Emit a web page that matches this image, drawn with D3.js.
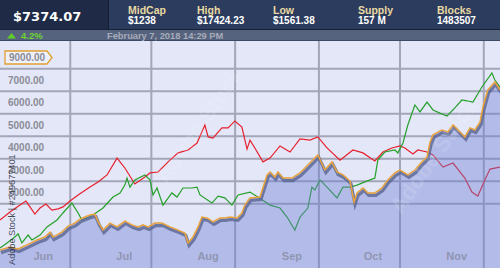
<!DOCTYPE html>
<html>
<head>
<meta charset="utf-8">
<script src="https://cdn.jsdelivr.net/npm/d3@7"></script>
<style>
  html, body { margin: 0; padding: 0; background: #e3e7f8; overflow: hidden; }
  text { font-family: "Liberation Sans", Arial, sans-serif; }
</style>
</head>
<body>
<div id="chart"></div>
<script>
const width = 500;
const height = 268;

// header figures
const price = "$7374.07";
const statLabels = ["MidCap", "High", "Low", "Supply", "Blocks"];
const statValues = ["$1238", "$17424.23", "$1561.38", "157 M", "1483507"];
const change = "4.2%";
const stamp = "February 7, 2018 14:29 PM";

// axis labels
const monthLabels = ["Jun", "Jul", "Aug", "Sep", "Oct", "Nov"];
const monthDates = [new Date(2018, 5, 1), new Date(2018, 6, 1), new Date(2018, 7, 1),
                    new Date(2018, 8, 1), new Date(2018, 9, 1), new Date(2018, 10, 1)];
const gridDates = [new Date(2018, 5, 11), new Date(2018, 6, 11), new Date(2018, 7, 11),
                   new Date(2018, 8, 11), new Date(2018, 9, 11), new Date(2018, 10, 11)];
const yTicks = [7000, 6000, 5000, 4000, 3000, 2000];
const yGrid = [7500, 6500, 5500, 4500, 3500, 2500, 1500];
const markerValue = 8000;
const markerLabel = "9000.00";

// series: [days after May 16 2018, value]
const redData = [
  [0, 780], [3.7, 1130], [7.4, 1440], [9.6, 1620], [11.1, 1360], [12.9, 1040], [14.8, 1310],
  [17, 1490], [19.2, 1220], [21.5, 1270], [23.3, 1360], [25.9, 1620], [28.9, 1890], [33.3, 2240],
  [36.3, 2470], [39.6, 2780], [43.3, 3530], [46.2, 3090], [49.9, 2380], [53.6, 2690], [55.5, 2870],
  [58.5, 2910], [62.2, 3360], [65.9, 3760], [69.6, 3890], [72.9, 4200], [75.8, 5000], [77, 4470],
  [78.8, 4420], [82.1, 4870], [84.4, 4870], [86.9, 5180], [89.5, 4910], [91.4, 3930], [92.5, 4330],
  [94.3, 3980], [97.3, 3360], [99.9, 3530], [103.6, 4070], [107.3, 3800], [111, 4380], [114.7, 4330],
  [117.6, 4470], [121, 3980], [125.8, 3440], [130.6, 3890], [134.3, 3760], [138.7, 3400], [141.7, 3800],
  [145, 3980], [148, 4070], [149.8, 3980], [152.8, 3710], [154.6, 3890], [158, 3800], [160.2, 3670],
  [163.9, 3130], [167.6, 3310], [172, 2640], [174.6, 2020], [176.8, 1840], [179.4, 2560], [181.3, 3040],
  [185, 3130]
];

const greenData = [
  [0, -470], [2.6, -240], [5.5, 20], [6.7, 160], [8.1, -240], [10.4, 110], [11.8, -110], [14.8, 110],
  [17.4, 470], [21.1, 780], [23.3, 1090], [26.6, 1530], [28.9, 1090], [30.3, 780], [32.2, 870],
  [34.4, 1000], [38.1, 1310], [41.8, 1800], [44.4, 1980], [46.2, 2330], [47, 2640], [48.1, 2240],
  [49.9, 2560], [53.6, 2780], [55.5, 2560], [56.6, 1890], [58.1, 2200], [60.3, 1440], [63.6, 1980],
  [65.5, 1800], [67.7, 2200], [71, 2200], [72.9, 2240], [74, 1890], [78.4, 1530], [80.7, 1840],
  [83.2, 1760], [85.8, 1440], [88.1, 1890], [92.5, 2020], [95.4, 1800], [99.9, 1440], [103.6, 1310],
  [106.2, 910], [109.1, 330], [111, 910], [113.9, 1310], [115.4, 2240], [116.5, 2110], [118.4, 2560],
  [121, 2240], [124.7, 1760], [126.9, 2240], [129.5, 2240], [132.1, 2330], [135, 2470], [138.7, 2640],
  [139.8, 3440], [142.4, 3800], [146.1, 3890], [147.2, 3760], [149.1, 4200], [150.9, 5000], [153.5, 5890],
  [155.4, 5580], [158, 6020], [160.2, 5670], [162.8, 5530], [165.4, 5400], [168.3, 5760], [170.9, 6110],
  [175, 6020], [178.3, 6690], [182, 7310], [183.1, 7000], [185, 6690]
];

const mainData = [
  [0, -560], [3.7, -420], [6.7, -510], [10, -330], [13.7, -110], [16.6, 20], [18.5, 240], [19.6, 20],
  [22.9, 240], [25.2, 510], [27.7, 640], [29.6, 820], [31.4, 910], [33.3, 1000], [35.1, 1040],
  [36.3, 690], [38.1, 330], [40.7, 640], [43.3, 470], [46.2, 730], [48.8, 560], [51.1, 470], [52.9, 560],
  [54.8, 470], [57.3, 640], [59.9, 640], [62.9, 470], [65.9, 330], [68.4, 200], [69.6, -240], [71.4, 20],
  [73.3, 470], [74.7, 910], [76.6, 870], [78.8, 690], [81.4, 870], [83.2, 870], [85.1, 910], [87.7, 870],
  [89.5, 1090], [90.6, 1440], [92.5, 1760], [96.2, 1800], [98.8, 2780], [99.9, 2910], [101.7, 2690],
  [102.8, 2910], [104.7, 2640], [108, 2640], [111, 2870], [113.9, 3220], [117.6, 3670], [120.2, 3000],
  [122.8, 3360], [124.7, 2910], [126.9, 2780], [129.5, 2510], [131, 1580], [132.1, 1980], [134.3, 2200],
  [136.1, 1980], [138.7, 1980], [141.3, 2200], [143.5, 2560], [146.1, 2870], [148, 3000], [150.9, 2780],
  [153.5, 3000], [156.1, 3360], [158, 3580], [159.1, 4240], [160.2, 4560], [163.5, 4780], [165.7, 4690],
  [167.6, 5000], [170.2, 4690], [172, 4470], [173.9, 4870], [175.7, 4780], [177.6, 5130], [178.7, 5800],
  [180.5, 6560], [183.1, 6910], [185, 6560]
];

// layout
const headerH = 30, barH = 11, plotTop = 41;
const statX = [128, 197, 273, 358, 437];
const start = new Date(2018, 4, 16);
const toDate = d => new Date(start.getTime() + d * 864e5);

const x = d3.scaleTime()
    .domain([start, new Date(2018, 10, 17)])
    .range([0, width]);
const y = d3.scaleLinear()
    .domain([0, 7000])
    .range([237.5, 80]);

const svg = d3.select("#chart").append("svg")
    .attr("width", width).attr("height", height)
    .attr("viewBox", [0, 0, width, height]);

// plot background
svg.append("rect")
    .attr("x", 0).attr("y", plotTop).attr("width", width).attr("height", height - plotTop)
    .attr("fill", "#e3e7f8");

// grid
const grid = svg.append("g").attr("stroke", "#a2a6b8").attr("stroke-width", 2);
grid.selectAll(".h").data(yGrid).join("line")
    .attr("x1", 0).attr("x2", width)
    .attr("y1", d => y(d)).attr("y2", d => y(d));
grid.selectAll(".v").data(gridDates).join("line")
    .attr("x1", d => x(d)).attr("x2", d => x(d))
    .attr("y1", plotTop).attr("y2", height);

// y labels
svg.append("g").selectAll("text").data(yTicks).join("text")
    .attr("x", 8).attr("y", d => y(d) + 3.5)
    .attr("font-size", 10).attr("font-weight", "bold").attr("fill", "#8b8c96")
    .text(d => d3.format(".2f")(d));

const line = d3.line()
    .x(d => x(toDate(d[0])))
    .y(d => y(d[1]));

svg.append("path").datum(redData)
    .attr("d", line).attr("fill", "none")
    .attr("stroke", "#e8202c").attr("stroke-width", 1.2);
svg.append("path").datum(greenData)
    .attr("d", line).attr("fill", "none")
    .attr("stroke", "#25a12a").attr("stroke-width", 1.2);

// main series: translucent area, shadow and orange edge
const area = d3.area()
    .x(d => x(toDate(d[0])))
    .y0(height)
    .y1(d => y(d[1]));

svg.append("path").datum(mainData)
    .attr("d", area)
    .attr("fill", "rgb(107,126,210)").attr("fill-opacity", 0.4);
svg.append("path").datum(mainData)
    .attr("d", line).attr("fill", "none")
    .attr("transform", "translate(1,2.5)")
    .attr("stroke", "#5b6592").attr("stroke-width", 3.2).attr("stroke-opacity", 0.8);
svg.append("path").datum(mainData)
    .attr("d", line).attr("fill", "none")
    .attr("stroke", "#eaa33a").attr("stroke-width", 1.5);

// month labels
svg.append("g").selectAll("text").data(monthLabels).join("text")
    .attr("x", (d, i) => x(monthDates[i]))
    .attr("y", 259.5)
    .attr("text-anchor", "middle")
    .attr("font-size", 11).attr("font-weight", "bold").attr("fill", "#9095b2")
    .text(d => d);

// price marker tag
const my = y(markerValue);
svg.append("path")
    .attr("d", `M5,${my - 6.5}H47L52,${my}L47,${my + 6.5}H5Z`)
    .attr("fill", "#eef0fb").attr("stroke", "#e0a030").attr("stroke-width", 1.3);
svg.append("text")
    .attr("x", 9).attr("y", my + 3.5)
    .attr("font-size", 10).attr("font-weight", "bold").attr("fill", "#8b8c96")
    .text(markerLabel);

// header
svg.append("rect").attr("width", width).attr("height", headerH).attr("fill", "#2c3c5e");
svg.append("rect").attr("width", 108).attr("height", headerH).attr("fill", "#1e2a46");
svg.append("line").attr("x1", 108.5).attr("x2", 108.5).attr("y1", 0).attr("y2", headerH)
    .attr("stroke", "#141c31").attr("stroke-width", 1);
svg.append("rect").attr("y", headerH).attr("width", width).attr("height", barH).attr("fill", "#55637f");
svg.append("line").attr("x1", 0).attr("x2", width).attr("y1", headerH - 0.5).attr("y2", headerH - 0.5)
    .attr("stroke", "#18203a");
svg.append("line").attr("x1", 0).attr("x2", width).attr("y1", plotTop - 0.5).attr("y2", plotTop - 0.5)
    .attr("stroke", "#3e4a64");

svg.append("text")
    .attr("x", 13).attr("y", 21)
    .style("font-family", "'DejaVu Sans', Verdana, sans-serif")
    .attr("font-size", 13).attr("font-weight", "bold").attr("fill", "#ffffff")
    .text(price);

const stats = svg.append("g").selectAll("g").data(statLabels).join("g")
    .attr("transform", (d, i) => `translate(${statX[i]},0)`);
stats.append("text")
    .attr("y", 14).attr("font-size", 10.5).attr("font-weight", "bold").attr("fill", "#e9d9a2")
    .text(d => d);
stats.append("text")
    .attr("y", 24).attr("font-size", 10).attr("font-weight", "bold").attr("fill", "#ffffff")
    .text((d, i) => statValues[i]);

svg.append("path").attr("d", "M7,38.5L11.5,33L16,38.5Z").attr("fill", "#5fd02a");
svg.append("text")
    .attr("x", 21).attr("y", 38.5)
    .attr("font-size", 9.5).attr("font-weight", "bold").attr("fill", "#6dd42e")
    .text(change);
svg.append("text")
    .attr("x", 107).attr("y", 38.5)
    .attr("font-size", 9.3).attr("font-weight", "bold").attr("fill", "#a7acb9")
    .text(stamp);

// stock watermarks, kept inside the frame
const marks = [[205, 130], [440, 160]];
svg.append("g").selectAll("text").data(marks).join("text")
    .attr("transform", d => `translate(${d[0]},${d[1]}) rotate(-55)`)
    .attr("text-anchor", "middle")
    .attr("font-size", 22).attr("font-weight", "bold")
    .attr("fill", "#ffffff").attr("fill-opacity", 0.14)
    .text("Adobe Stock");

svg.append("text")
    .attr("transform", "translate(15,265) rotate(-90)")
    .attr("font-size", 9.2).attr("fill", "#2a2c38").attr("fill-opacity", 0.85)
    .text("Adobe Stock | #249677401");
</script>
</body>
</html>
